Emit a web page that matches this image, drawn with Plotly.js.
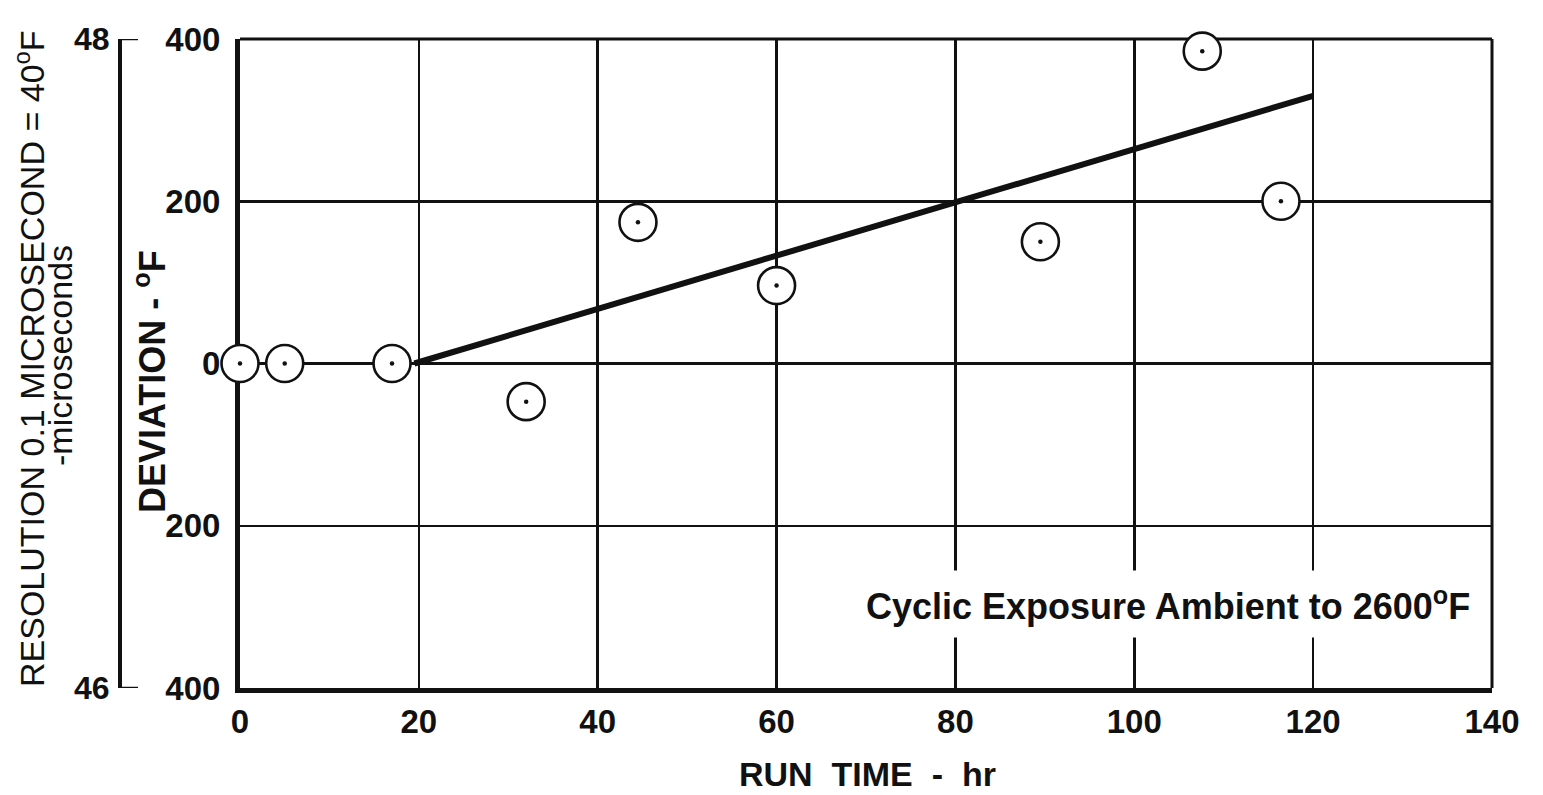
<!DOCTYPE html>
<html>
<head>
<meta charset="utf-8">
<script src="https://cdn.plot.ly/plotly-3.0.1.min.js"></script>
<style>
  html, body { margin: 0; padding: 0; background: #fff; }
  #chart { width: 1543px; height: 795px; }
</style>
</head>
<body>
<div id="chart"></div>
<script>
// ---- Data ----
const runTime = [0, 5, 17, 32, 44.5, 60, 89.5, 107.6, 116.4];
const deviation = [0, 0, 0, -47, 174, 96, 150, 385, 200];
const fitTime = [19.5, 120];
const fitDeviation = [0, 330];

const xTickVals = [0, 20, 40, 60, 80, 100, 120, 140];
const xTickText = ['0', '20', '40', '60', '80', '100', '120', '140'];
const yTickVals = [-400, -200, 0, 200, 400];
const yTickText = ['400', '200', '0', '200', '400'];
const resTickVals = [46, 48];
const resTickText = ['46', '48'];

// ---- Layout geometry ----
const W = 1543, H = 795;
const M = { l: 100, r: 51, t: 39, b: 107 };
const plotW = W - M.l - M.r, plotH = H - M.t - M.b;
const px2x = p => (p - M.l) / plotW;
const px2y = p => (H - M.b - p) / plotH;

const INK = '#111';
const FONT = '"Liberation Sans", Arial, Helvetica, sans-serif';

const traces = [
  {
    x: fitTime, y: fitDeviation, type: 'scatter', mode: 'lines',
    line: { color: INK, width: 6 }, hoverinfo: 'skip', showlegend: false,
    cliponaxis: false
  },
  {
    x: runTime, y: deviation, type: 'scatter', mode: 'markers',
    marker: { symbol: 'circle', size: 37, color: '#fff', line: { color: INK, width: 2.6 } },
    cliponaxis: false, showlegend: false
  },
  {
    x: runTime, y: deviation, type: 'scatter', mode: 'markers',
    marker: { symbol: 'circle', size: 4.5, color: INK, line: { width: 0 } },
    cliponaxis: false, showlegend: false, hoverinfo: 'skip'
  },
  {
    x: [], y: [], yaxis: 'y2', type: 'scatter', mode: 'markers',
    showlegend: false, hoverinfo: 'skip'
  }
];

// secondary-axis tick marks (pointing right, as in the reference)
const resTickShapes = resTickVals.map(v => ({
  type: 'line', xref: 'paper', yref: 'y2',
  x0: px2x(119), x1: px2x(138), y0: v, y1: v,
  line: { color: INK, width: 2.5 }
}));

const layout = {
  width: W, height: H,
  margin: M,
  paper_bgcolor: '#fff', plot_bgcolor: '#fff',
  showlegend: false,
  font: { family: FONT, color: INK },
  xaxis: {
    domain: [px2x(240), 1],
    range: [0, 140],
    tickvals: xTickVals, ticktext: xTickText,
    tickfont: { family: FONT, size: 33, weight: 'bold', color: INK },
    ticks: '', ticklabelstandoff: 0,
    showgrid: true, gridcolor: INK, gridwidth: 2.5,
    showline: true, linecolor: INK, linewidth: 5,
    zeroline: false, layer: 'below traces', anchor: 'y'
  },
  yaxis: {
    domain: [0, 1],
    range: [-400, 400],
    tickvals: yTickVals, ticktext: yTickText,
    tickfont: { family: FONT, size: 33, weight: 'bold', color: INK },
    ticks: '', ticklabelstandoff: 8,
    showgrid: true, gridcolor: INK, gridwidth: 2.5,
    showline: true, linecolor: INK, linewidth: 5,
    zeroline: false, layer: 'below traces', anchor: 'x'
  },
  yaxis2: {
    overlaying: 'y', anchor: 'free', position: px2x(120), side: 'left',
    range: [46, 48],
    tickvals: resTickVals, ticktext: resTickText,
    tickfont: { family: FONT, size: 32, weight: 'bold', color: INK },
    ticks: 'inside', ticklen: 18, tickwidth: 2.5, tickcolor: INK,
    ticklabelstandoff: 2,
    showgrid: false, zeroline: false,
    showline: true, linecolor: INK, linewidth: 4
  },
  shapes: [
    { type: 'line', xref: 'paper', yref: 'paper', x0: px2x(240), x1: 1, y0: 1, y1: 1, line: { color: INK, width: 3 }, layer: 'below' },
    { type: 'line', xref: 'paper', yref: 'paper', x0: 1, x1: 1, y0: 0, y1: 1, line: { color: INK, width: 3 }, layer: 'below' }
  ].concat(resTickShapes),
  annotations: [
    {
      text: 'RESOLUTION 0.1 MICROSECOND = 40<sup>o</sup>F',
      xref: 'paper', yref: 'paper', x: px2x(30), y: px2y(359),
      xanchor: 'center', yanchor: 'middle', textangle: -90, showarrow: false,
      font: { family: FONT, size: 34, color: INK }
    },
    {
      text: '-microseconds',
      xref: 'paper', yref: 'paper', x: px2x(60), y: px2y(356),
      xanchor: 'center', yanchor: 'middle', textangle: -90, showarrow: false,
      font: { family: FONT, size: 34, color: INK }
    },
    {
      text: 'DEVIATION - <sup>o</sup>F',
      xref: 'paper', yref: 'paper', x: px2x(150), y: px2y(382),
      xanchor: 'center', yanchor: 'middle', textangle: -90, showarrow: false,
      font: { family: FONT, size: 36, weight: 'bold', color: INK }
    },
    {
      text: 'RUN  TIME  -  hr',
      xref: 'paper', yref: 'paper', x: px2x(867), y: px2y(774),
      xanchor: 'center', yanchor: 'middle', showarrow: false,
      font: { family: FONT, size: 34, weight: 'bold', color: INK }
    },
    {
      text: 'Cyclic Exposure Ambient to 2600<sup>o</sup>F',
      xref: 'paper', yref: 'paper', x: px2x(1168), y: px2y(604),
      xanchor: 'center', yanchor: 'middle', showarrow: false,
      bgcolor: '#fff', borderpad: 10,
      font: { family: FONT, size: 36, weight: 'bold', color: INK }
    }
  ]
};

Plotly.newPlot('chart', traces, layout, { displayModeBar: false, staticPlot: true });
</script>
</body>
</html>
